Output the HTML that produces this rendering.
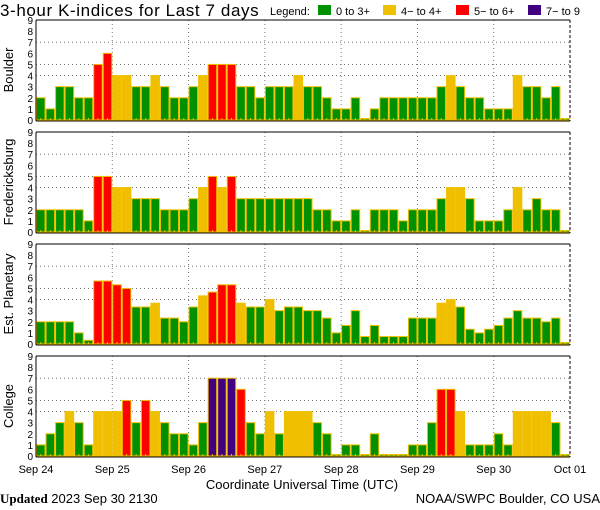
<!DOCTYPE html>
<html><head><meta charset="utf-8">
<style>
body{margin:0;background:#fff;width:600px;height:510px;overflow:hidden;font-family:"Liberation Sans",sans-serif;}
svg{display:block}
</style></head>
<body>
<svg id="chart" width="600" height="510" xmlns="http://www.w3.org/2000/svg">
<text x="0" y="16" font-size="17" letter-spacing="0.6" font-family="Liberation Sans,sans-serif">3-hour K-indices for Last 7 days</text>
<g font-size="11" font-family="Liberation Sans,sans-serif">
<text x="270" y="15">Legend:</text>
<rect x="318" y="5" width="13" height="10" fill="#009000"/>
<text x="336" y="15">0 to 3+</text>
<rect x="383" y="5" width="13" height="10" fill="#f0c000"/>
<text x="401" y="15">4− to 4+</text>
<rect x="456" y="5" width="13" height="10" fill="#ff0000"/>
<text x="474" y="15">5− to 6+</text>
<rect x="528" y="5" width="13" height="10" fill="#400080"/>
<text x="546" y="15">7− to 9</text>
</g>
<text x="302" y="489" font-size="13" text-anchor="middle">Coordinate Universal Time (UTC)</text>
<text x="0" y="503" font-size="13"><tspan font-family="Liberation Serif,serif" font-weight="bold">Updated</tspan> 2023 Sep 30 2130</text>
<text x="600" y="503" font-size="13" text-anchor="end">NOAA/SWPC Boulder, CO USA</text>
</svg>
<script>
const stations = ["Boulder","Fredericksburg","Est. Planetary","College"];
const dayLabels = ["Sep 24","Sep 25","Sep 26","Sep 27","Sep 28","Sep 29","Sep 30","Oct 01"];
const yTicks = [0,1,2,3,4,5,6,7,8,9];
const gridLevels = [4,5,7];
const boulder = [2,1,3,3,2,2,5,6, 4,4,3,3,4,3,2,2, 3,4,5,5,5,3,3,2, 3,3,3,4,3,3,2,1, 1,2,0,1,2,2,2,2, 2,2,3,4,3,2,2,1, 1,1,4,3,3,2,3,0];
const fredericksburg = [2,2,2,2,2,1,5,5, 4,4,3,3,3,2,2,2, 3,4,5,4,5,3,3,3, 3,3,3,3,3,2,2,1, 1,2,0,2,2,2,1,2, 2,2,3,4,4,3,1,1, 1,2,4,2,3,2,2,0];
const planetary = [2,2,2,2,1,0.33,5.67,5.67, 5.33,5,3.33,3.33,3.67,2.33,2.33,2, 3.33,4.33,4.67,5.33,5.33,3.67,3.33,3.33, 4,3,3.33,3.33,3,3,2.33,1, 1.67,3,0.67,1.67,0.67,0.67,0.67,2.33, 2.33,2.33,3.67,4,3.33,1.33,1,1.33, 1.67,2.33,3,2.33,2.33,2,2.33,0];
const college = [1,2,3,4,3,1,4,4, 4,5,3,5,4,3,2,2, 1,3,7,7,7,6,3,2, 4,2,4,4,4,3,2,0, 1,1,0,2,0,0,0,1, 1,3,6,6,4,1,1,1, 2,1,4,4,4,4,3,0];
const series = [boulder,fredericksburg,planetary,college];

const NS="http://www.w3.org/2000/svg";
const svg=document.getElementById('chart');
const X0=36, X1=570, PH=100, tops=[20,132,244,356];
const nBars=56, bw=(X1-X0)/nBars;
function xScale(i){return X0+i*bw;}
function yScale(v,top){return top+PH-v*PH/9;}
function color(v){return v>=6.67?'#400080':v>=4.67?'#ff0000':v>=3.67?'#f0c000':'#009000';}
function mk(tag,attrs,parent){const e=document.createElementNS(NS,tag);for(const k in attrs)e.setAttribute(k,attrs[k]);(parent||svg).appendChild(e);return e;}

series.forEach((data,p)=>{
  const top=tops[p];
  const g=mk('g',{});
  
  
  gridLevels.forEach(l=>{
    const ln=mk('line',{x1:X0,x2:X1,y1:yScale(l,top),y2:yScale(l,top),stroke:'#777','stroke-dasharray':'1,3'},g);
    
    
  });
  for(let d=1;d<7;d++){
    const x=xScale(d*8);
    const ln=mk('line',{x1:x,x2:x,y1:top,y2:top+PH,stroke:'#777','stroke-dasharray':'1,3'},g);
    
    
  }
  data.forEach((v,i)=>{
    const y=yScale(v,top);
    let h=top+PH-y; if(h<1.5)h=1.5;
    const r=mk('rect',{x:xScale(i)+0.5,y:top+PH-h,width:bw-1,height:h,fill:color(v),stroke:'#f0c000','stroke-width':1},g);
    
    
    const t=mk('rect',{x:xScale(i)+bw/2-0.5,y:top+PH-2,width:1,height:2,fill:'#f0c000'},g);
    
    
  });
  mk('line',{x1:X0,x2:X1,y1:top,y2:top,stroke:'#000','stroke-width':1},g);
  mk('line',{x1:X0,x2:X0,y1:top,y2:top+PH+1,stroke:'#000','stroke-width':1},g);
  mk('line',{x1:X0,x2:X1,y1:top+PH+1,y2:top+PH+1,stroke:'#000','stroke-width':1},g);
  mk('line',{x1:X1,x2:X1,y1:top,y2:top+PH+1,stroke:'#000','stroke-width':1,'stroke-dasharray':'3,2'},g);
  yTicks.forEach(t=>{
    const tx=mk('text',{x:33,y:yScale(t,top)+4,'font-size':10,'text-anchor':'end'},g);
    tx.textContent=t;
    
    
  });
  const yt=mk('text',{x:0,y:0,'font-size':13,'text-anchor':'middle',transform:`translate(13,${top+PH/2}) rotate(-90)`},g);
  yt.textContent=stations[p];
  
  
});
dayLabels.forEach((l,d)=>{
  const tx=mk('text',{x:xScale(d*8),y:473,'font-size':11,'text-anchor':'middle'});
  tx.textContent=l;
  
  
});
</script>
</body></html>
